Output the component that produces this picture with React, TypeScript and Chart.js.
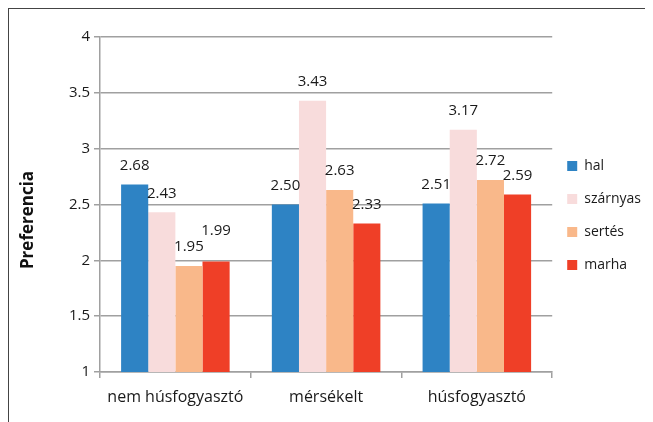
import React, { useEffect, useRef } from "react";
import { Chart, registerables } from "chart.js";

Chart.register(...registerables);

const categories = ["nem húsfogyasztó", "mérsékelt", "húsfogyasztó"];
const seriesNames = ["hal", "szárnyas", "sertés", "marha"];
const hal = [2.68, 2.5, 2.51];
const szarnyas = [2.43, 3.43, 3.17];
const sertes = [1.95, 2.63, 2.72];
const marha = [1.99, 2.33, 2.59];
const colors = ["#2E83C4", "#F8DCDC", "#F9B88A", "#EF3F27"];
const yTicks = [1, 1.5, 2, 2.5, 3, 3.5, 4];

const FONT = "'Open Sans', 'Noto Sans', sans-serif";

const labelPlugin = {
  id: "barLabels",
  afterLayout(chart: any) {
    if (chart.legend) {
      chart.legend.left -= 4;
      chart.legend.right -= 4;
    }
  },
  afterDatasetsDraw(chart: any) {
    const ctx = chart.ctx;
    ctx.save();
    ctx.font = `15px ${FONT}`;
    ctx.fillStyle = "#1a1a1a";
    ctx.textAlign = "center";
    ctx.textBaseline = "middle";
    const h = 16;
    const n = chart.data.labels.length;
    for (let j = 0; j < n; j++) {
      let prev: any = null;
      chart.data.datasets.forEach((ds: any, i: number) => {
        const bar: any = chart.getDatasetMeta(i).data[j];
        const text = Number(ds.data[j]).toFixed(2);
        const w = ctx.measureText(text).width;
        let cy = bar.y - 19;
        const box = { l: bar.x - w / 2, r: bar.x + w / 2, t: cy - h / 2, b: cy + h / 2 };
        const vOverlap = prev ? Math.min(box.b, prev.b) - Math.max(box.t, prev.t) : 0;
        if (prev && box.l < prev.r && box.r > prev.l && vOverlap > 4) {
          cy = prev.t - h / 2;
          box.t = cy - h / 2;
          box.b = cy + h / 2;
        }
        ctx.fillText(text, bar.x, cy);
        prev = box;
      });
    }
    ctx.restore();
  },
};

export default function App() {
  const ref = useRef<HTMLCanvasElement>(null);
  useEffect(() => {
    const seriesData = [hal, szarnyas, sertes, marha];
    const chart = new Chart(ref.current!, {
      type: "bar",
      data: {
        labels: categories,
        datasets: seriesNames.map((n, i) => ({
          label: n,
          data: seriesData[i],
          backgroundColor: colors[i],
          borderWidth: 0,
          categoryPercentage: 0.72,
          barPercentage: 1,
        })),
      },
      options: {
        animation: false,
        responsive: true,
        maintainAspectRatio: false,
        layout: { padding: { top: 6, left: 6, right: -2, bottom: 6 } },
        plugins: {
          title: {
            display: true,
            text: " ",
            fullSize: false,
            font: { size: 10, lineHeight: 1 },
            padding: { top: 12, bottom: 0 },
          },
          legend: {
            position: "right",
            align: "center",
            labels: {
              boxWidth: 10,
              boxHeight: 10,
              padding: 19,
              color: "#1a1a1a",
              font: { family: FONT, size: 14 },
            },
          },
          tooltip: { enabled: false },
        },
        scales: {
          x: {
            afterFit(axis: any) {
              axis.height = 44;
            },
            grid: {
              offset: true,
              drawOnChartArea: false,
              drawTicks: true,
              tickLength: 6,
              color: "#a0a0a0",
              lineWidth: 1.5,
            },
            border: { color: "#a0a0a0", width: 1.5 },
            ticks: { color: "#1a1a1a", font: { family: FONT, size: 16 }, padding: 10 },
          },
          y: {
            min: 1,
            max: 4,
            afterFit(axis: any) {
              axis.width = 85;
            },
            afterBuildTicks(axis: any) {
              axis.ticks = yTicks.map((v) => ({ value: v }));
            },
            grid: { color: "#a0a0a0", lineWidth: 1.5, tickLength: 6 },
            border: { color: "#a0a0a0", width: 1.5 },
            ticks: {
              color: "#1a1a1a",
              font: { family: FONT, size: 15 },
              padding: 4,
              callback: (v: any) => String(v),
            },
            title: {
              display: true,
              text: "Preferencia       ",
              color: "#111",
              font: { family: FONT, size: 17, weight: "bold" },
              padding: { top: 3, bottom: 0 },
            },
          },
        },
      },
      plugins: [labelPlugin],
    });
    return () => chart.destroy();
  }, []);
  return (
    <div
      style={{
        width: 644,
        height: 413,
        borderTop: "1px solid #444",
        borderLeft: "1px solid #444",
        fontFamily: FONT,
      }}
    >
      <canvas ref={ref} />
    </div>
  );
}
